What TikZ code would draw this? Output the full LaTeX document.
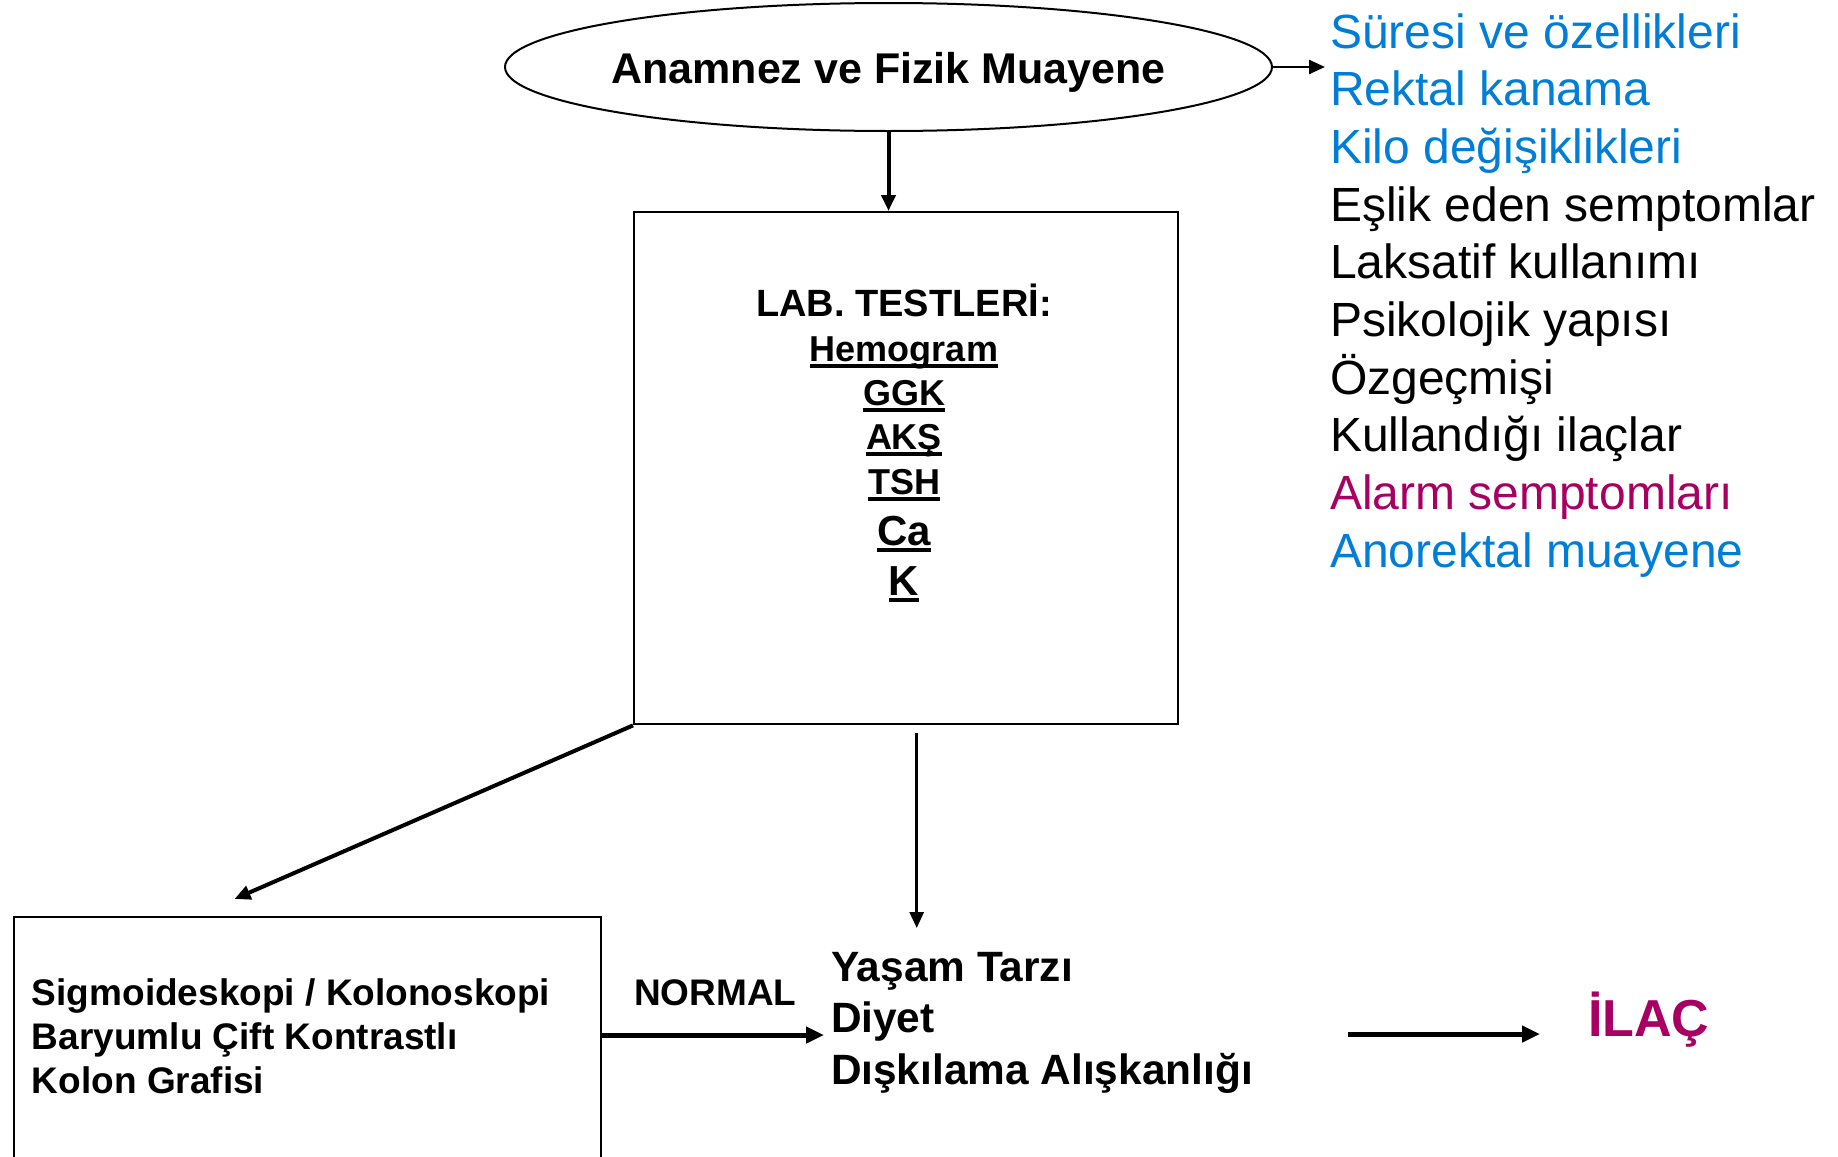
\documentclass[tikz,border=0pt]{standalone}
\usepackage{fontspec}
\setmainfont{Liberation Sans}
\usetikzlibrary{arrows.meta,shapes.geometric}
\definecolor{lblue}{RGB}{0,125,215}
\definecolor{lmag}{RGB}{167,0,98}
\newcommand{\ulx}[1]{\leavevmode\setbox0\hbox{#1}\dp0=0pt\vtop{\box0\kern1.6pt\hrule height 1.7pt}}
\tikzset{
  x=0.5pt, y=-0.5pt,
  txt/.style={inner sep=0pt, outer sep=0pt, anchor=base west},
  ctxt/.style={inner sep=0pt, outer sep=0pt, anchor=base},
  listf/.style={txt, font=\fontsize{24}{28}\selectfont},
  boxline/.style={draw, line width=1.2pt},
  tip/.style={-{Triangle[length=8pt,width=7pt]}},
  bigtip/.style={-{Triangle[length=9pt,width=8pt]}},
}
\begin{document}
\begin{tikzpicture}
\useasboundingbox (0,0) rectangle (1838,1157);
% ellipse
\node[draw, line width=1pt, ellipse, minimum width=383.5pt, minimum height=64pt, inner sep=0pt] (ell) at (888.5,67) {};
\node[ctxt, font=\fontsize{21.5}{26}\selectfont\bfseries] (elltxt) at (888.5,83) {Anamnez ve Fizik Muayene};
% lab box
\node[boxline, minimum width=272pt, minimum height=256pt, inner sep=0pt, anchor=north west] (lab) at (633,211) {};
\node[ctxt, font=\fontsize{19}{22}\selectfont\bfseries] (l0) at (904,316) {LAB. TESTLERİ:};
\node[ctxt, font=\fontsize{18}{22}\selectfont\bfseries] (l1) at (904,361) {\ulx{Hemogram}};
\node[ctxt, font=\fontsize{18}{22}\selectfont\bfseries] (l2) at (904,405) {\ulx{GGK}};
\node[ctxt, font=\fontsize{18}{22}\selectfont\bfseries] (l3) at (904,449) {\ulx{AKŞ}};
\node[ctxt, font=\fontsize{18}{22}\selectfont\bfseries] (l4) at (904,494) {\ulx{TSH}};
\node[ctxt, font=\fontsize{21}{25}\selectfont\bfseries] (l5) at (904,545) {\ulx{Ca}};
\node[ctxt, font=\fontsize{21}{25}\selectfont\bfseries] (l6) at (904,595) {\ulx{K}};
% right list
\node[listf, text=lblue] (r1) at (1330,48) {Süresi ve özellikleri};
\node[listf, text=lblue] (r2) at (1330,105.7) {Rektal kanama};
\node[listf, text=lblue] (r3) at (1330,163.4) {Kilo değişiklikleri};
\node[listf] (r4) at (1330,221.1) {Eşlik eden semptomlar};
\node[listf] (r5) at (1330,278.8) {Laksatif kullanımı};
\node[listf] (r6) at (1330,336.5) {Psikolojik yapısı};
\node[listf] (r7) at (1330,394.2) {Özgeçmişi};
\node[listf] (r8) at (1330,451.9) {Kullandığı ilaçlar};
\node[listf, text=lmag] (r9) at (1330,509.6) {Alarm semptomları};
\node[listf, text=lblue] (r10) at (1330,567.3) {Anorektal muayene};
% bottom-left box
\node[boxline, minimum width=293.5pt, minimum height=120.5pt, inner sep=0pt, anchor=north west] (sig) at (13,915.5) {};
\node[txt, font=\fontsize{18.5}{22}\selectfont\bfseries] (s1) at (32,1005) {Sigmoideskopi / Kolonoskopi};
\node[txt, font=\fontsize{18.5}{22}\selectfont\bfseries] (s2) at (32,1049) {Baryumlu Çift Kontrastlı};
\node[txt, font=\fontsize{18.5}{22}\selectfont\bfseries] (s3) at (32,1093) {Kolon Grafisi};
\node[txt, font=\fontsize{18.5}{22}\selectfont\bfseries] (norm) at (634,1005) {NORMAL};
% lifestyle
\node[txt, font=\fontsize{21.2}{25}\selectfont\bfseries] (y1) at (831,981) {Yaşam Tarzı};
\node[txt, font=\fontsize{21.2}{25}\selectfont\bfseries] (y2) at (831,1032) {Diyet};
\node[txt, font=\fontsize{21.2}{25}\selectfont\bfseries] (y3) at (831,1084) {Dışkılama Alışkanlığı};
\node[txt, font=\fontsize{26}{30}\selectfont\bfseries, text=lmag] (ilac) at (1588,1036) {İLAÇ};
% connectors
\coordinate (ea) at (888.5,131);
\draw[line width=2pt, tip] (ea) -- (lab.north -| ea);
\draw[line width=1.2pt, tip] (ell.east) -- (1325,67) coordinate (rt);
\draw[line width=2pt, tip] (lab.south west) -- (234.5,899) coordinate (dg);
\coordinate (vs) at (916.7,733);
\draw[line width=1.5pt, tip] (vs) -- (916.7,928) coordinate (ve);
\draw[line width=2.5pt, bigtip] (sig.east |- 0,1035) -- (824,1035) coordinate (ne);
\coordinate (is) at (1348,1034);
\draw[line width=2.5pt, bigtip] (is) -- (1540,1034) coordinate (ie);
\end{tikzpicture}
\end{document}
